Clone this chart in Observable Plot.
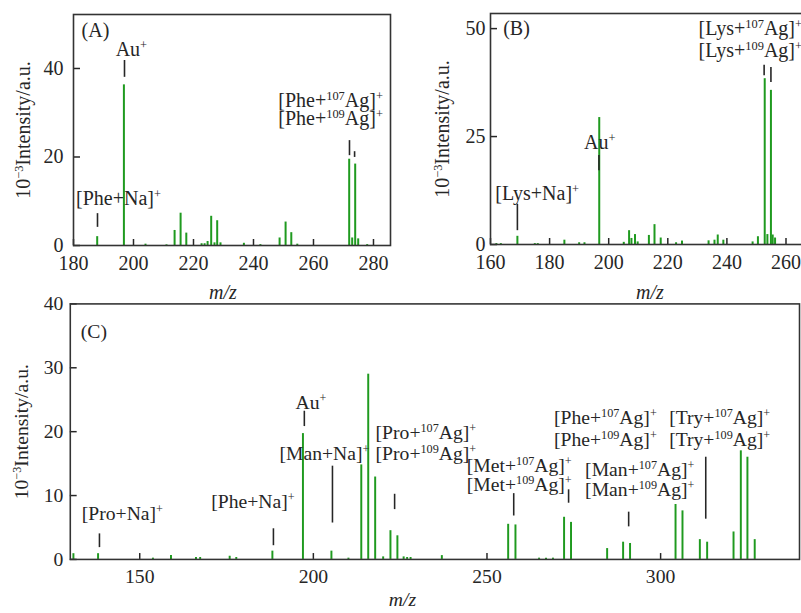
<!DOCTYPE html>
<html><head><meta charset="utf-8">
<script src="https://cdn.jsdelivr.net/npm/d3@7"></script>
<script src="https://cdn.jsdelivr.net/npm/@observablehq/plot@0.6"></script>
<style>
body{margin:0;background:#fff}
#wrap{position:relative;width:801px;height:613px;overflow:hidden;background:#fff}
#wrap svg{position:absolute}
</style></head><body><div id="wrap"></div>
<script>
// ---------- Panel A: Phe ----------
const mzA  = [187.9, 196.8, 204.0, 211.0, 213.7, 215.7, 217.6, 222.7, 223.7, 224.7, 225.9, 227.0, 227.9, 229.0, 236.8, 242.3, 248.7, 250.7, 252.6, 254.6, 271.9, 272.9, 273.9, 274.9, 277.9];
const intA = [2.0, 36.3, 0.3, 0.15, 3.4, 7.3, 2.8, 0.4, 0.4, 0.9, 6.6, 0.6, 5.6, 0.6, 0.5, 0.2, 1.7, 5.3, 2.9, 0.3, 19.5, 1.7, 18.4, 1.5, 0.2];
const xTicksA = [180, 200, 220, 240, 260, 280];
const yTicksA = [0, 20, 40];
const labelsA = ["(A)", "Au^+^", "[Phe+^107^Ag]^+^", "[Phe+^109^Ag]^+^", "[Phe+Na]^+^"];
const labelXA = [187.3, 199.3, 265.7, 265.7, 195.0];
const labelYA = [48.6, 44.3, 32.8, 28.7, 10.6];
const markXA  = [197.0, 272.0, 273.7, 188.0];
const markY1A = [41.8, 23.7, 21.2, 7.2];
const markY2A = [38.0, 20.3, 19.9, 4.1];

// ---------- Panel B: Lys ----------
const mzB  = [162.0, 163.5, 169.1, 175.0, 176.0, 185.0, 190.0, 191.8, 196.8, 205.1, 206.9, 207.7, 208.9, 209.8, 213.6, 215.5, 217.6, 222.8, 224.8, 233.8, 235.8, 236.9, 238.8, 248.7, 250.5, 252.8, 253.7, 254.9, 255.5, 256.3];
const intB = [0.2, 0.2, 1.9, 0.2, 0.2, 1.0, 0.4, 0.4, 29.4, 0.5, 3.2, 1.4, 2.3, 0.6, 2.1, 4.6, 1.5, 0.4, 0.8, 0.85, 1.0, 2.2, 1.0, 0.6, 1.8, 38.4, 2.3, 35.7, 2.2, 1.5];
const xTicksB = [160, 180, 200, 220, 240, 260];
const yTicksB = [0, 25, 50];
const labelsB = ["(B)", "Au^+^", "[Lys+Na]^+^", "[Lys+^107^Ag]^+^", "[Lys+^109^Ag]^+^"];
const labelXB = [168.8, 197.0, 175.8, 247.9, 247.9];
const labelYB = [50.0, 23.6, 11.8, 50.0, 44.9];
const markXB  = [196.7, 169.1, 252.6, 254.9];
const markY1B = [20.6, 9.3, 41.5, 41.0];
const markY2B = [17.1, 3.2, 39.1, 37.5];

// ---------- Panel C: mixture ----------
const mzC  = [130.9, 138.0, 153.8, 159.0, 166.2, 167.4, 175.9, 177.8, 188.2, 197.0, 205.2, 210.1, 213.8, 215.8, 217.8, 220.1, 222.2, 224.2, 226.0, 227.0, 228.0, 237.0, 256.1, 258.2, 265.0, 267.0, 269.0, 272.2, 274.2, 284.6, 289.2, 291.2, 304.3, 306.3, 311.3, 313.4, 321.0, 323.1, 325.0, 327.1];
const intC = [0.9, 0.9, 0.2, 0.6, 0.3, 0.3, 0.5, 0.3, 1.3, 19.7, 1.3, 0.2, 14.8, 29.0, 12.9, 0.4, 4.5, 3.7, 0.4, 0.3, 0.3, 0.6, 5.5, 5.4, 0.2, 0.2, 0.2, 6.6, 5.8, 1.7, 2.7, 2.5, 8.6, 7.6, 3.1, 2.7, 4.3, 17.0, 16.0, 3.1];
const xTicksC = [150, 200, 250, 300];
const yTicksC = [0, 10, 20, 30, 40];
const labelsC = ["(C)", "[Pro+Na]^+^", "[Phe+Na]^+^", "Au^+^", "[Man+Na]^+^",
  "[Pro+^107^Ag]^+^", "[Pro+^109^Ag]^+^", "[Met+^107^Ag]^+^", "[Met+^109^Ag]^+^",
  "[Phe+^107^Ag]^+^", "[Phe+^109^Ag]^+^", "[Man+^107^Ag]^+^", "[Man+^109^Ag]^+^",
  "[Try+^107^Ag]^+^", "[Try+^109^Ag]^+^"];
const labelXC = [136.8, 145.0, 182.6, 199.3, 203.2, 232.4, 232.4, 259.3, 259.3, 284.1, 284.1, 294.0, 294.0, 317.0, 317.0];
const labelYC = [35.6, 7.1, 9.1, 24.5, 16.6, 19.8, 16.5, 14.6, 11.7, 22.2, 18.8, 14.0, 10.9, 22.2, 18.8];
const markXC  = [138.4, 188.5, 197.4, 205.5, 223.4, 257.7, 273.5, 290.8, 313.0];
const markY1C = [4.0, 4.8, 23.2, 14.6, 10.2, 10.3, 10.9, 7.4, 16.0];
const markY2C = [1.85, 2.15, 20.8, 5.7, 7.8, 6.8, 8.8, 5.1, 6.3];

const yTitle = "10^−3^Intensity/a.u.";
const xTitle = "m/z";

const GREEN = "#1f9a1f", INK = "#262626", FS = 20;

function applySup(svg) {
  svg.querySelectorAll("text").forEach(t => {
    const s = t.textContent;
    if (!s.includes("^")) return;
    const fs = parseFloat(t.getAttribute("font-size")) || FS;
    const shift = fs * 0.36;
    const parts = s.split("^");
    while (t.firstChild) t.removeChild(t.firstChild);
    let raised = false;
    parts.forEach((p, i) => {
      if (!p) return;
      const isSup = i % 2 === 1;
      const ts = document.createElementNS("http://www.w3.org/2000/svg", "tspan");
      ts.textContent = p;
      if (isSup) {
        ts.setAttribute("font-size", (fs * 0.62).toFixed(1));
        if (!raised) { ts.setAttribute("dy", (-shift).toFixed(1)); raised = true; }
      } else if (raised) {
        ts.setAttribute("dy", shift.toFixed(1)); raised = false;
      }
      t.appendChild(ts);
    });
  });
}

function panel(c) {
  const peaks = c.mz.map((m, i) => ({mz: m, v: c.inten[i]}));
  const marks = c.markX.map((m, i) => ({x: m, y1: c.markY1[i], y2: c.markY2[i]}));
  const labs = c.labels.map((l, i) => ({t: l, x: c.labelX[i], y: c.labelY[i]}));
  const svg = Plot.plot({
    width: c.width, height: c.height,
    marginLeft: c.ml, marginRight: c.mr, marginTop: c.mt, marginBottom: c.mb,
    style: {fontFamily: "'Liberation Serif', 'Times New Roman', serif", fontSize: FS + "px", color: INK, background: "transparent", overflow: "visible"},
    x: {domain: c.xDomain},
    y: {domain: c.yDomain},
    marks: [
      Plot.ruleX(peaks, {x: "mz", y: "v", stroke: GREEN, strokeWidth: 2}),
      Plot.ruleX(marks, {x: "x", y1: "y1", y2: "y2", stroke: INK, strokeWidth: 1.6}),
      Plot.text(labs, {x: "x", y: "y", text: "t", fill: INK, fontSize: FS}),
      Plot.axisX(c.xTicks, {tickSize: -6, fill: "none", label: null, stroke: INK, strokeWidth: 1.5}),
      Plot.axisX(c.xTicks, {tickSize: 0, tickPadding: 10, label: null, fill: INK, fontSize: FS}),
      Plot.axisY(c.yTicks, {tickSize: -7, fill: "none", label: null, stroke: INK, strokeWidth: 1.5}),
      Plot.axisY(c.yTicks, {tickSize: 0, tickPadding: c.yPad, label: null, fill: INK, fontSize: FS}),
      Plot.text([yTitle], {frameAnchor: "left", textAnchor: "middle", lineAnchor: "middle", rotate: -90, dx: c.titleDx, fill: INK, fontSize: FS}),
      Plot.text([xTitle], {frameAnchor: "bottom", textAnchor: "middle", lineAnchor: "middle", dx: c.xlabDx, dy: c.xlabDy, fill: INK, fontSize: FS, fontStyle: "italic"}),
      Plot.frame({stroke: "#333", strokeWidth: 1.6})
    ]
  });
  svg.style.left = c.left + "px";
  svg.style.top = c.top + "px";
  document.getElementById("wrap").appendChild(svg);
  applySup(svg);
}

panel({mz: mzA, inten: intA, xTicks: xTicksA, yTicks: yTicksA, labels: labelsA, labelX: labelXA, labelY: labelYA,
  markX: markXA, markY1: markY1A, markY2: markY2A, xDomain: [180, 285.67], yDomain: [0, 52.2],
  left: 0, top: 0, width: 400, height: 300, ml: 73, mr: 10, mt: 14, mb: 55, yPad: 10, titleDx: -50, xlabDx: -9, xlabDy: 47});
panel({mz: mzB, inten: intB, xTicks: xTicksB, yTicks: yTicksB, labels: labelsB, labelX: labelXB, labelY: labelYB,
  markX: markXB, markY1: markY1B, markY2: markY2B, xDomain: [160, 266.6], yDomain: [0, 53.5],
  left: 400, top: 0, width: 405, height: 300, ml: 90, mr: 0, mt: 13, mb: 56, yPad: 5, titleDx: -48, xlabDx: 2, xlabDy: 48});
panel({mz: mzC, inten: intC, xTicks: xTicksC, yTicks: yTicksC, labels: labelsC, labelX: labelXC, labelY: labelYC,
  markX: markXC, markY1: markY1C, markY2: markY2C, xDomain: [130, 340], yDomain: [0, 40],
  left: 0, top: 270, width: 815, height: 343, ml: 71, mr: 2, mt: 34, mb: 49, yPad: 7, titleDx: -49, xlabDx: -33, xlabDy: 41});
</script>
</body></html>
